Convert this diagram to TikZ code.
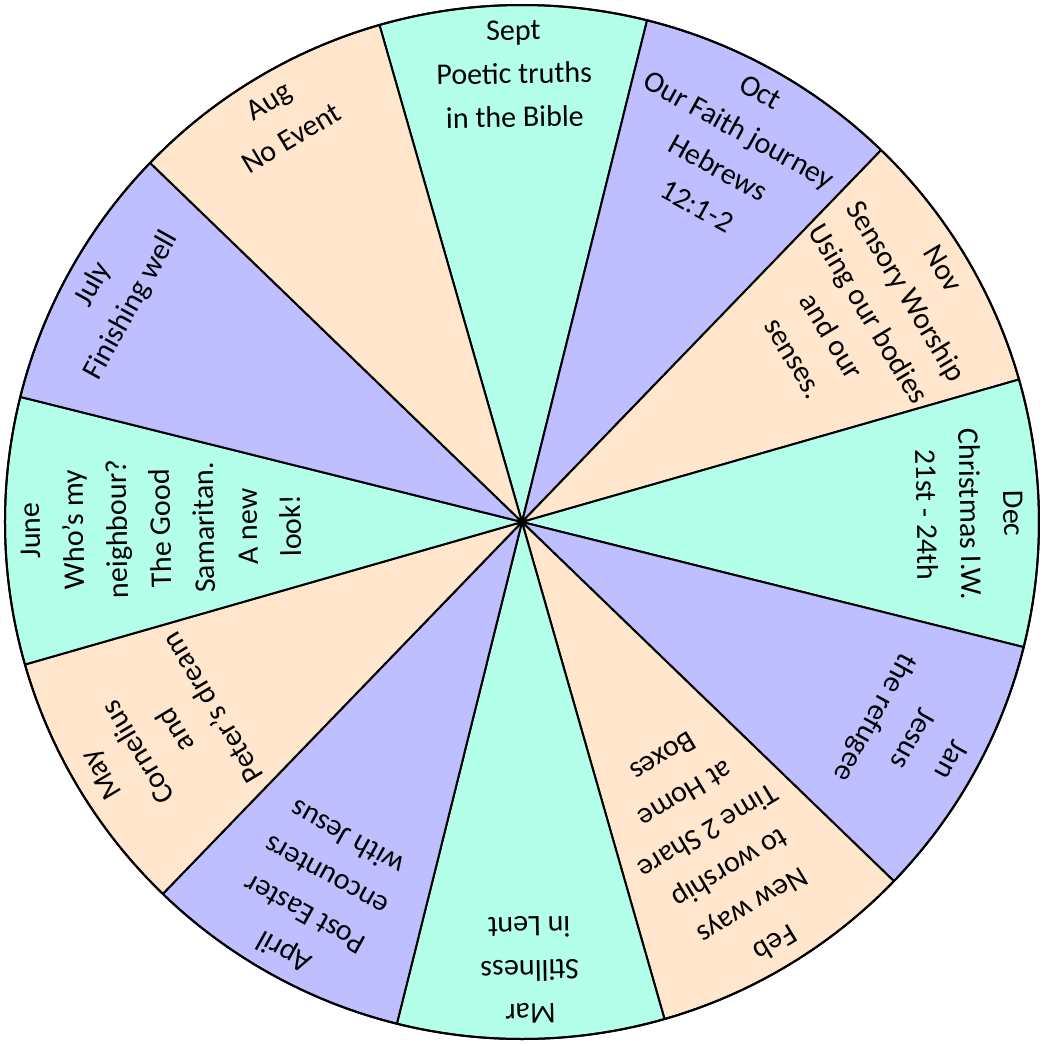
\documentclass[tikz,border=0pt]{standalone}
\usepackage{fontspec}
\setmainfont{Carlito}
\definecolor{mint}{RGB}{179,255,234}
\definecolor{lav}{RGB}{191,191,255}
\definecolor{peach}{RGB}{255,230,204}
\tikzset{
  sector/.style={draw=black, line width=1pt, line join=round},
  lbl/.style={font=\fontsize{15pt}{18pt}\selectfont, anchor=base, inner sep=0pt, text=black},
}
\newcommand\monthlines[2]{%
  \foreach \t [count=\i from 0] in {#2} {
    \node[lbl, rotate={1-30*#1}] (m#1l\i) at ({91-30*#1}:{241pt-21.75pt*\i}) {\t};
  }%
}
\begin{document}
\begin{tikzpicture}
\useasboundingbox (-261pt,-262pt) rectangle (262pt,261pt);
\foreach \c [count=\k from 0] in {mint,lav,peach,mint,lav,peach,mint,lav,peach,mint,lav,peach} {
  \filldraw[sector, fill=\c] (0,0) -- ({106-30*\k}:258.5pt)
    arc[start angle={106-30*\k}, end angle={76-30*\k}, radius=258.5pt] -- cycle;
}
\draw[line width=1pt] (0,0) circle[radius=258.5pt];
\monthlines{0}{Sept,Poetic truths,in the Bible}
\monthlines{1}{Oct,Our Faith journey,Hebrews,12:1-2}
\monthlines{2}{Nov,Sensory Worship,Using our bodies,and our,senses.}
\monthlines{3}{Dec,Christmas I.W.,21st - 24th}
\monthlines{4}{Jan,Jesus,the refugee}
\monthlines{5}{Feb,New ways,to worship,Time 2 Share,at Home,Boxes}
\monthlines{6}{Mar,Stillness,in Lent}
\monthlines{7}{April,Post Easter,encounters,with Jesus}
\monthlines{8}{May,Cornelius,and,Peter’s dream}
\monthlines{9}{June,Who’s my,neighbour?,The Good,Samaritan.,A new,look!}
\monthlines{10}{July,Finishing well}
\monthlines{11}{Aug,No Event}
\end{tikzpicture}
\end{document}
